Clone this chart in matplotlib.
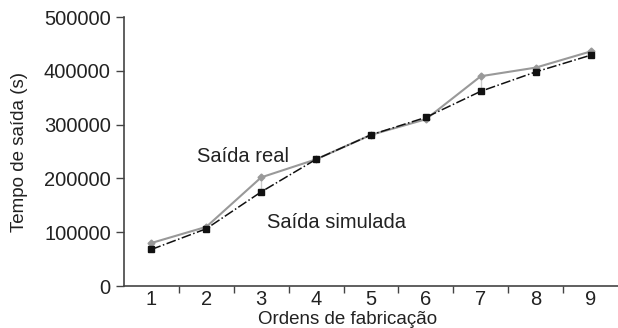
import matplotlib
matplotlib.use("Agg")
import matplotlib.pyplot as plt

categories = [1, 2, 3, 4, 5, 6, 7, 8, 9]
saida_real = [80000, 110000, 202000, 235500, 281000, 310000, 390000, 406000, 436000]
saida_simulada = [68000, 106500, 175000, 235500, 281000, 313500, 362000, 398000, 429000]
yticks = [0, 100000, 200000, 300000, 400000, 500000]

plt.rcParams['font.family'] = ['Liberation Sans', 'DejaVu Sans']

fig = plt.figure(figsize=(6.18, 3.28), dpi=100)
ax = fig.add_axes([0.2006, 0.128, 0.7994, 0.820])

for x, a, b in zip(categories, saida_real, saida_simulada):
    ax.vlines(x, min(a, b), max(a, b), color='#cccccc', lw=1, zorder=1)

ax.plot(categories, saida_real, color='#999999', lw=1.5, marker='D', ms=3.5,
        mfc='#999999', mec='#999999', zorder=2)
ax.plot(categories, saida_simulada, color='#111111', lw=1.1, ls='-.', marker='s', ms=4,
        mfc='#111111', mec='#111111', zorder=3)

ax.set_xlim(0.5, 9.5)
ax.set_ylim(0, 500000)
ax.set_yticks(yticks)
ax.set_yticklabels([str(v) for v in yticks])
ax.set_xticks(categories)
ax.set_xticklabels([str(c) for c in categories])
ax.set_xticks([c + 0.5 for c in categories[:-1]], minor=True)
ax.tick_params(axis='x', which='major', length=0, labelsize=14.5, colors='#222222', pad=3)
ax.tick_params(axis='x', which='minor', length=5, width=1, color='#444444', direction='out')
ax.tick_params(axis='y', length=6, width=1, color='#444444', labelsize=14.5, labelcolor='#222222', pad=3.5)

for s in ['top', 'right']:
    ax.spines[s].set_visible(False)
for s in ['left', 'bottom']:
    ax.spines[s].set_color('#444444')
    ax.spines[s].set_linewidth(1.2)

ax.set_ylabel('Tempo de saída (s)', fontsize=13.5, color='#222222')
ax.yaxis.set_label_coords(-0.195, 0.5)
ax.text(0.452, -0.125, 'Ordens de fabricação', transform=ax.transAxes, fontsize=13.5,
        color='#222222', ha='center', va='center')

ax.text(1.83, 240000, 'Saída real', fontsize=14.5, color='#222222', va='center', ha='left')
ax.text(3.1, 119000, 'Saída simulada', fontsize=14.5, color='#222222', va='center', ha='left')

fig.savefig('out.png', dpi=100)
